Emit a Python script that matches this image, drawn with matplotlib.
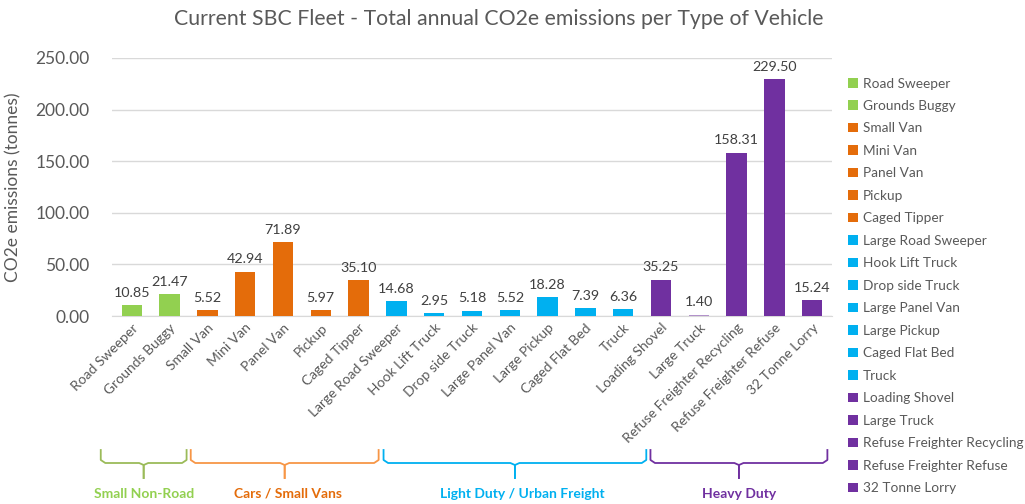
import matplotlib
matplotlib.use("Agg")
import matplotlib.pyplot as plt
import matplotlib.transforms as mtransforms
from matplotlib.patches import Patch

plt.rcParams['font.family'] = ['Lato', 'DejaVu Sans']

# vehicle types and their annual CO2e emissions (tonnes)
vehicles = ["Road Sweeper", "Grounds Buggy", "Small Van", "Mini Van", "Panel Van", "Pickup",
            "Caged Tipper", "Large Road Sweeper", "Hook Lift Truck", "Drop side Truck",
            "Large Panel Van", "Large Pickup", "Caged Flat Bed", "Truck", "Loading Shovel",
            "Large Truck", "Refuse Freighter Recycling", "Refuse Freighter Refuse", "32 Tonne Lorry"]
emissions = [10.85, 21.47, 5.52, 42.94, 71.89, 5.97, 35.10, 14.68, 2.95, 5.18,
             5.52, 18.28, 7.39, 6.36, 35.25, 1.40, 158.31, 229.50, 15.24]
group_of = [0, 0, 1, 1, 1, 1, 1, 2, 2, 2, 2, 2, 2, 2, 3, 3, 3, 3, 3]

groups = ["Small Non-Road", "Cars / Small Vans", "Light Duty / Urban Freight", "Heavy Duty"]
bar_colors = ["#92D050", "#E46C0A", "#00B0F0", "#7030A0"]
brace_colors = ["#9BBB59", "#F79646", "#00B0F0", "#7030A0"]
# bracket extents (in category units) as placed under the labels
group_spans = [(-0.82, 1.45), (1.56, 6.53), (6.66, 13.61), (13.72, 18.4)]
label_shift = [0, 0.1, 0.2, 0]

fig = plt.figure(figsize=(10.25, 5.04), dpi=100)
ax = fig.add_axes([0.109, 0.373, 0.703, 0.512])

x = list(range(len(vehicles)))
cols = [bar_colors[g] for g in group_of]
bars = ax.bar(x, emissions, width=0.54, color=cols, zorder=3)
bars[15].set_alpha(0.5)

for xi, v in zip(x, emissions):
    ax.text(xi, v + 6, f"{v:.2f}", ha='center', va='bottom', fontsize=10.3, color='#404040')

ax.set_ylim(0, 250)
ax.set_xlim(-0.53, len(vehicles) - 0.47)
ax.set_yticks(range(0, 251, 50))
ax.set_yticklabels([f"{t:.2f}" for t in range(0, 251, 50)], fontsize=12.5, color='#595959')
ax.grid(axis='y', color='#D9D9D9', linewidth=1, zorder=0)
for s in ['top', 'right', 'left']:
    ax.spines[s].set_visible(False)
ax.spines['bottom'].set_color('#D9D9D9')
ax.tick_params(axis='both', length=0)
ax.tick_params(axis='y', pad=16)
ax.set_xticks(x)
ax.set_xticklabels(vehicles, rotation=45, ha='right', rotation_mode='anchor',
                   fontsize=10, color='#595959')
ax.tick_params(axis='x', pad=4)
ax.set_ylabel("CO2e emissions (tonnes)", fontsize=12.5, color='#595959', labelpad=10)

fig.text(0.487, 0.962, "Current SBC Fleet - Total annual CO2e emissions per Type of Vehicle",
         ha='center', va='center', fontsize=15.3, color='#595959')

# curly brackets and group names underneath
trans = mtransforms.blended_transform_factory(ax.transData, fig.transFigure)
y_tip = 1 - 450 / 504
y_bar = 1 - 463 / 504
y_mid = 1 - 478 / 504
y_lab = 1 - 494 / 504
for gi, (a, b) in enumerate(group_spans):
    c = brace_colors[gi]
    m = (a + b) / 2
    d = 0.12
    xs = [a, a, a + d, m - d, m, m, m, m + d, b - d, b, b]
    ys = [y_tip, y_bar + 0.006, y_bar, y_bar, y_bar - 0.004, y_mid, y_bar - 0.004,
          y_bar, y_bar, y_bar + 0.006, y_tip]
    ax.plot(xs[:6], ys[:6], color=c, lw=1.3, transform=trans, clip_on=False)
    ax.plot(xs[5:], ys[5:], color=c, lw=1.3, transform=trans, clip_on=False)
    ax.text(m + label_shift[gi], y_lab, groups[gi], transform=trans, ha='center', va='center',
            fontsize=10, fontweight='bold', color=bar_colors[gi])

handles = [Patch(facecolor=c) for c in cols]
leg = fig.legend(handles, vehicles, loc='upper left', bbox_to_anchor=(0.822, 0.857),
                 frameon=False, fontsize=9.8, handlelength=0.7, handleheight=0.7,
                 handletextpad=0.4, labelspacing=0.77, borderaxespad=0)
for t in leg.get_texts():
    t.set_color('#595959')

fig.savefig("out.png", dpi=100)
